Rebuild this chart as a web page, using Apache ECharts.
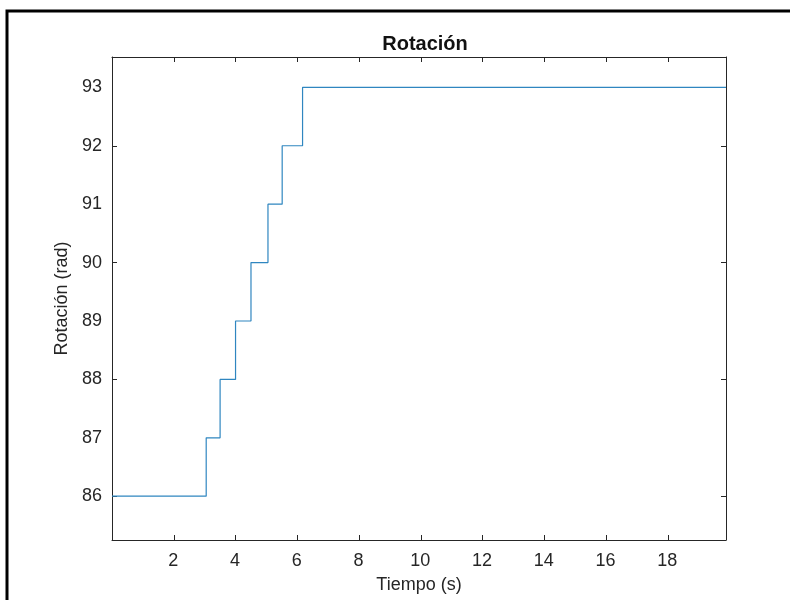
<!DOCTYPE html>
<html>
<head>
<meta charset="utf-8">
<script src="https://cdn.jsdelivr.net/npm/echarts@6/dist/echarts.min.js"></script>
<style>
  html, body { margin: 0; padding: 0; background: #fff; }
  #main { width: 790px; height: 600px; }
</style>
</head>
<body>
<div id="main"></div>
<script>
// step times (s) and rotation (rad)
var stepTimes = [0.02, 3.07, 3.52, 4.02, 4.52, 5.07, 5.53, 6.19, 19.9];
var stepValues = [86, 87, 88, 89, 90, 91, 92, 93, 93];
var xTicks = [2, 4, 6, 8, 10, 12, 14, 16, 18];
var yTicks = [86, 87, 88, 89, 90, 91, 92, 93];

var font = '"Liberation Sans", Arial, sans-serif';
var ink = '#262626';

var points = stepTimes.map(function (t, i) { return [t, stepValues[i]]; });

var myChart = echarts.init(document.getElementById('main'));

var baseX = {
  type: 'value',
  min: 0.02,
  max: 19.9,
  interval: 2,
  splitLine: { show: false },
  axisLine: { show: true, onZero: false, lineStyle: { color: ink, width: 1 } },
  axisTick: { show: true, inside: true, length: 5, lineStyle: { color: ink } },
  customValues: xTicks
};
var baseY = {
  type: 'value',
  min: 85.25,
  max: 93.52,
  splitLine: { show: false },
  axisLine: { show: true, onZero: false, lineStyle: { color: ink, width: 1 } },
  axisTick: { show: true, inside: true, length: 5, lineStyle: { color: ink } },
  customValues: yTicks
};

var option = {
  animation: false,
  backgroundColor: '#fff',
  title: {
    text: 'Rotación',
    left: 420,
    textAlign: 'center',
    top: 29,
    textStyle: { fontFamily: font, fontSize: 20, fontWeight: 'bold', color: '#111' }
  },
  graphic: [{
    type: 'rect',
    shape: { x: 7, y: 11, width: 820, height: 620 },
    style: { fill: 'none', stroke: '#000', lineWidth: 3 },
    silent: true
  }],
  grid: { left: 112, top: 57, right: 64, bottom: 60 },
  xAxis: [
    Object.assign({}, baseX, {
      position: 'bottom',
      name: 'Tiempo (s)',
      nameLocation: 'middle',
      nameGap: 36,
      nameTextStyle: { fontFamily: font, fontSize: 18, color: ink },
      axisLabel: {
        customValues: xTicks,
        fontFamily: font, fontSize: 18, color: ink, margin: 12,
        showMinLabel: true, showMaxLabel: true
      }
    }),
    Object.assign({}, baseX, { position: 'top', axisLabel: { show: false } })
  ],
  yAxis: [
    Object.assign({}, baseY, {
      position: 'left',
      name: 'Rotación (rad)',
      nameLocation: 'middle',
      nameGap: 41,
      nameTextStyle: { fontFamily: font, fontSize: 18, color: ink },
      axisLabel: {
        customValues: yTicks,
        fontFamily: font, fontSize: 18, color: ink, margin: 10
      }
    }),
    Object.assign({}, baseY, { position: 'right', axisLabel: { show: false } })
  ],
  series: [{
    type: 'line',
    step: 'end',
    data: points,
    symbol: 'none',
    lineStyle: { color: '#2f86c0', width: 1.2 },
    silent: true
  }]
};
myChart.setOption(option);
</script>
</body>
</html>
